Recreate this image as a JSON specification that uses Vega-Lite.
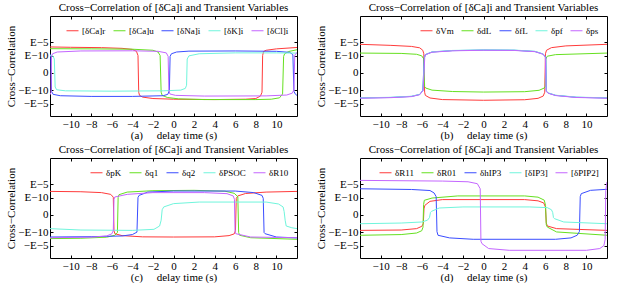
{
"$schema":"https://vega.github.io/schema/vega-lite/v6.json",
"padding":{"left":4,"top":1,"right":0,"bottom":0},
"background":"white",
"config":{
 "font":"Liberation Serif",
 "view":{"stroke":"black","strokeWidth":1},
 "title":{"font":"Liberation Serif","fontSize":11,"fontWeight":"normal","offset":3},
 "axis":{"labelFont":"Liberation Serif","titleFont":"Liberation Serif","labelFontSize":11,"titleFontSize":11,"titleFontWeight":"normal","grid":false,"domain":false,"tickColor":"black","labelColor":"black","titleColor":"black","tickSize":-3,"labelPadding":5,"labelOverlap":false},
 "axisX":{"titlePadding":0},
 "axisY":{"titlePadding":4},
 "legend":{"orient":"top-right","direction":"horizontal","symbolType":"stroke","symbolSize":144,"symbolStrokeWidth":1,"labelFont":"Liberation Serif","labelFontSize":9,"labelOffset":3,"columnPadding":5,"title":null,"offset":8,"padding":0,"labelLimit":0}
},
"data":{"values":[
{"p":"a","s":"[δCa]r","x":-12,"y":14.9},{"p":"a","s":"[δCa]r","x":-10,"y":14.7},{"p":"a","s":"[δCa]r","x":-7,"y":14.5},{"p":"a","s":"[δCa]r","x":-5,"y":14.1},{"p":"a","s":"[δCa]r","x":-4,"y":13.5},{"p":"a","s":"[δCa]r","x":-3.6,"y":12.4},{"p":"a","s":"[δCa]r","x":-3.45,"y":10},{"p":"a","s":"[δCa]r","x":-3.38,"y":-11},{"p":"a","s":"[δCa]r","x":-3.3,"y":-12.8},{"p":"a","s":"[δCa]r","x":-3,"y":-13.8},{"p":"a","s":"[δCa]r","x":-2,"y":-14.6},{"p":"a","s":"[δCa]r","x":0,"y":-15},{"p":"a","s":"[δCa]r","x":4,"y":-15.2},{"p":"a","s":"[δCa]r","x":7,"y":-15},{"p":"a","s":"[δCa]r","x":8,"y":-14.6},{"p":"a","s":"[δCa]r","x":8.45,"y":-13.2},{"p":"a","s":"[δCa]r","x":8.6,"y":-11},{"p":"a","s":"[δCa]r","x":8.66,"y":10},{"p":"a","s":"[δCa]r","x":8.75,"y":12.3},{"p":"a","s":"[δCa]r","x":9,"y":13},{"p":"a","s":"[δCa]r","x":10,"y":13.8},{"p":"a","s":"[δCa]r","x":12,"y":14.6},
{"p":"a","s":"[δCa]u","x":-12,"y":13.9},{"p":"a","s":"[δCa]u","x":-8,"y":13.8},{"p":"a","s":"[δCa]u","x":-4,"y":13.6},{"p":"a","s":"[δCa]u","x":-2,"y":13},{"p":"a","s":"[δCa]u","x":-1.5,"y":12},{"p":"a","s":"[δCa]u","x":-1.3,"y":10},{"p":"a","s":"[δCa]u","x":-1.2,"y":-11},{"p":"a","s":"[δCa]u","x":-1.1,"y":-12.8},{"p":"a","s":"[δCa]u","x":-0.6,"y":-14},{"p":"a","s":"[δCa]u","x":0.5,"y":-14.8},{"p":"a","s":"[δCa]u","x":3,"y":-15.2},{"p":"a","s":"[δCa]u","x":8,"y":-15.2},{"p":"a","s":"[δCa]u","x":9.5,"y":-15},{"p":"a","s":"[δCa]u","x":10.3,"y":-14.2},{"p":"a","s":"[δCa]u","x":10.6,"y":-12},{"p":"a","s":"[δCa]u","x":10.7,"y":9.5},{"p":"a","s":"[δCa]u","x":10.8,"y":11},{"p":"a","s":"[δCa]u","x":11.2,"y":12.3},{"p":"a","s":"[δCa]u","x":12,"y":13.3},
{"p":"a","s":"[δNa]i","x":-12,"y":11},{"p":"a","s":"[δNa]i","x":-11.92,"y":9},{"p":"a","s":"[δNa]i","x":-11.85,"y":-10.5},{"p":"a","s":"[δNa]i","x":-11.7,"y":-12.2},{"p":"a","s":"[δNa]i","x":-11,"y":-13},{"p":"a","s":"[δNa]i","x":-8,"y":-13.4},{"p":"a","s":"[δNa]i","x":-4,"y":-13.4},{"p":"a","s":"[δNa]i","x":-1,"y":-13},{"p":"a","s":"[δNa]i","x":-0.55,"y":-12.2},{"p":"a","s":"[δNa]i","x":-0.4,"y":-10},{"p":"a","s":"[δNa]i","x":-0.33,"y":9.5},{"p":"a","s":"[δNa]i","x":-0.2,"y":11},{"p":"a","s":"[δNa]i","x":0.3,"y":12},{"p":"a","s":"[δNa]i","x":1.5,"y":12.5},{"p":"a","s":"[δNa]i","x":6,"y":12.6},{"p":"a","s":"[δNa]i","x":10,"y":12.4},{"p":"a","s":"[δNa]i","x":11.3,"y":11.8},{"p":"a","s":"[δNa]i","x":11.6,"y":10.5},{"p":"a","s":"[δNa]i","x":11.7,"y":-10.5},{"p":"a","s":"[δNa]i","x":11.85,"y":-12.2},{"p":"a","s":"[δNa]i","x":12,"y":-12.8},
{"p":"a","s":"[δK]i","x":-12,"y":10},{"p":"a","s":"[δK]i","x":-11.7,"y":9.6},{"p":"a","s":"[δK]i","x":-11.58,"y":8},{"p":"a","s":"[δK]i","x":-11.5,"y":-8},{"p":"a","s":"[δK]i","x":-11.35,"y":-9.6},{"p":"a","s":"[δK]i","x":-10.5,"y":-10.2},{"p":"a","s":"[δK]i","x":-6,"y":-10.4},{"p":"a","s":"[δK]i","x":-1,"y":-10.2},{"p":"a","s":"[δK]i","x":0.7,"y":-9.8},{"p":"a","s":"[δK]i","x":1.15,"y":-8.8},{"p":"a","s":"[δK]i","x":1.27,"y":-7},{"p":"a","s":"[δK]i","x":1.33,"y":8},{"p":"a","s":"[δK]i","x":1.5,"y":9.8},{"p":"a","s":"[δK]i","x":2.5,"y":11},{"p":"a","s":"[δK]i","x":6,"y":11.5},{"p":"a","s":"[δK]i","x":10,"y":11.5},{"p":"a","s":"[δK]i","x":12,"y":11.4},
{"p":"a","s":"[δCl]i","x":-12,"y":-12.5},{"p":"a","s":"[δCl]i","x":-11.9,"y":-11},{"p":"a","s":"[δCl]i","x":-11.85,"y":9.5},{"p":"a","s":"[δCl]i","x":-11.75,"y":11},{"p":"a","s":"[δCl]i","x":-11.3,"y":12},{"p":"a","s":"[δCl]i","x":-9,"y":12.6},{"p":"a","s":"[δCl]i","x":-4,"y":12.7},{"p":"a","s":"[δCl]i","x":-1.5,"y":12.4},{"p":"a","s":"[δCl]i","x":-0.7,"y":11.5},{"p":"a","s":"[δCl]i","x":-0.52,"y":9.5},{"p":"a","s":"[δCl]i","x":-0.45,"y":-10},{"p":"a","s":"[δCl]i","x":-0.35,"y":-12},{"p":"a","s":"[δCl]i","x":0.2,"y":-12.8},{"p":"a","s":"[δCl]i","x":3,"y":-13.2},{"p":"a","s":"[δCl]i","x":9,"y":-13.1},{"p":"a","s":"[δCl]i","x":11,"y":-12.6},{"p":"a","s":"[δCl]i","x":11.55,"y":-11.5},{"p":"a","s":"[δCl]i","x":11.7,"y":-9.5},{"p":"a","s":"[δCl]i","x":11.78,"y":10},{"p":"a","s":"[δCl]i","x":11.9,"y":11.2},{"p":"a","s":"[δCl]i","x":12,"y":11.6},
{"p":"b","s":"δVm","x":-12,"y":16.4},{"p":"b","s":"δVm","x":-9,"y":15.8},{"p":"b","s":"δVm","x":-7,"y":15.2},{"p":"b","s":"δVm","x":-6.2,"y":14.4},{"p":"b","s":"δVm","x":-5.9,"y":13},{"p":"b","s":"δVm","x":-5.8,"y":11},{"p":"b","s":"δVm","x":-5.72,"y":-11},{"p":"b","s":"δVm","x":-5.65,"y":-12.8},{"p":"b","s":"δVm","x":-5.2,"y":-14.3},{"p":"b","s":"δVm","x":-4,"y":-15.2},{"p":"b","s":"δVm","x":0,"y":-15.6},{"p":"b","s":"δVm","x":4,"y":-15.3},{"p":"b","s":"δVm","x":5.3,"y":-14.5},{"p":"b","s":"δVm","x":5.8,"y":-13.2},{"p":"b","s":"δVm","x":5.95,"y":-11},{"p":"b","s":"δVm","x":6.02,"y":11},{"p":"b","s":"δVm","x":6.12,"y":13},{"p":"b","s":"δVm","x":6.6,"y":14.5},{"p":"b","s":"δVm","x":8,"y":15.5},{"p":"b","s":"δVm","x":12,"y":16.4},
{"p":"b","s":"δdL","x":-12,"y":11.4},{"p":"b","s":"δdL","x":-8,"y":11.2},{"p":"b","s":"δdL","x":-6.5,"y":10.7},{"p":"b","s":"δdL","x":-6,"y":9.8},{"p":"b","s":"δdL","x":-5.8,"y":8},{"p":"b","s":"δdL","x":-5.72,"y":-7.8},{"p":"b","s":"δdL","x":-5.62,"y":-8.6},{"p":"b","s":"δdL","x":-5,"y":-9.8},{"p":"b","s":"δdL","x":-3,"y":-10.6},{"p":"b","s":"δdL","x":0,"y":-10.9},{"p":"b","s":"δdL","x":4,"y":-10.7},{"p":"b","s":"δdL","x":5.4,"y":-9.9},{"p":"b","s":"δdL","x":5.9,"y":-8.6},{"p":"b","s":"δdL","x":6,"y":-7.6},{"p":"b","s":"δdL","x":6.05,"y":8},{"p":"b","s":"δdL","x":6.2,"y":9.6},{"p":"b","s":"δdL","x":7,"y":10.5},{"p":"b","s":"δdL","x":12,"y":11.4},
{"p":"b","s":"δfL","x":-12,"y":-14.3},{"p":"b","s":"δfL","x":-9,"y":-14},{"p":"b","s":"δfL","x":-7,"y":-13.4},{"p":"b","s":"δfL","x":-6.2,"y":-12.3},{"p":"b","s":"δfL","x":-5.9,"y":-10},{"p":"b","s":"δfL","x":-5.75,"y":9},{"p":"b","s":"δfL","x":-5.65,"y":10.5},{"p":"b","s":"δfL","x":-5,"y":12},{"p":"b","s":"δfL","x":-3,"y":12.8},{"p":"b","s":"δfL","x":0,"y":13.1},{"p":"b","s":"δfL","x":3,"y":13},{"p":"b","s":"δfL","x":5,"y":12.3},{"p":"b","s":"δfL","x":5.8,"y":10.8},{"p":"b","s":"δfL","x":6.05,"y":9},{"p":"b","s":"δfL","x":6.12,"y":-10.5},{"p":"b","s":"δfL","x":6.3,"y":-11.5},{"p":"b","s":"δfL","x":7,"y":-12.8},{"p":"b","s":"δfL","x":9,"y":-13.9},{"p":"b","s":"δfL","x":12,"y":-14.3},
{"p":"b","s":"δpf","x":-12,"y":-14.2},{"p":"b","s":"δpf","x":-9,"y":-13.9},{"p":"b","s":"δpf","x":-7,"y":-13.3},{"p":"b","s":"δpf","x":-6.2,"y":-12.2},{"p":"b","s":"δpf","x":-5.88,"y":-10},{"p":"b","s":"δpf","x":-5.73,"y":9},{"p":"b","s":"δpf","x":-5.63,"y":10.5},{"p":"b","s":"δpf","x":-5,"y":12.1},{"p":"b","s":"δpf","x":-3,"y":12.9},{"p":"b","s":"δpf","x":0,"y":13.2},{"p":"b","s":"δpf","x":3,"y":13.1},{"p":"b","s":"δpf","x":5,"y":12.4},{"p":"b","s":"δpf","x":5.8,"y":10.9},{"p":"b","s":"δpf","x":6.03,"y":9},{"p":"b","s":"δpf","x":6.1,"y":-10.5},{"p":"b","s":"δpf","x":6.3,"y":-11.4},{"p":"b","s":"δpf","x":7,"y":-12.7},{"p":"b","s":"δpf","x":9,"y":-13.8},{"p":"b","s":"δpf","x":12,"y":-14.2},
{"p":"b","s":"δps","x":-12,"y":-14.4},{"p":"b","s":"δps","x":-9,"y":-14.1},{"p":"b","s":"δps","x":-7,"y":-13.5},{"p":"b","s":"δps","x":-6.2,"y":-12.4},{"p":"b","s":"δps","x":-5.86,"y":-10},{"p":"b","s":"δps","x":-5.71,"y":9},{"p":"b","s":"δps","x":-5.61,"y":10.5},{"p":"b","s":"δps","x":-5,"y":11.9},{"p":"b","s":"δps","x":-3,"y":12.7},{"p":"b","s":"δps","x":0,"y":13},{"p":"b","s":"δps","x":3,"y":12.9},{"p":"b","s":"δps","x":5,"y":12.2},{"p":"b","s":"δps","x":5.8,"y":10.7},{"p":"b","s":"δps","x":6.01,"y":9},{"p":"b","s":"δps","x":6.08,"y":-10.5},{"p":"b","s":"δps","x":6.3,"y":-11.6},{"p":"b","s":"δps","x":7,"y":-12.9},{"p":"b","s":"δps","x":9,"y":-14},{"p":"b","s":"δps","x":12,"y":-14.4},
{"p":"c","s":"δpK","x":-12,"y":13.5},{"p":"c","s":"δpK","x":-9,"y":13.3},{"p":"c","s":"δpK","x":-7,"y":12.8},{"p":"c","s":"δpK","x":-6.1,"y":11.8},{"p":"c","s":"δpK","x":-5.85,"y":10.2},{"p":"c","s":"δpK","x":-5.78,"y":-9},{"p":"c","s":"δpK","x":-5.7,"y":-10.7},{"p":"c","s":"δpK","x":-5,"y":-11.8},{"p":"c","s":"δpK","x":-3,"y":-12.5},{"p":"c","s":"δpK","x":0,"y":-12.6},{"p":"c","s":"δpK","x":4,"y":-12.5},{"p":"c","s":"δpK","x":5.4,"y":-11.8},{"p":"c","s":"δpK","x":5.9,"y":-10.8},{"p":"c","s":"δpK","x":6.02,"y":-9},{"p":"c","s":"δpK","x":6.1,"y":9.5},{"p":"c","s":"δpK","x":6.25,"y":10.9},{"p":"c","s":"δpK","x":7,"y":12.3},{"p":"c","s":"δpK","x":9,"y":13.1},{"p":"c","s":"δpK","x":12,"y":13.5},
{"p":"c","s":"δq1","x":-12,"y":-13.5},{"p":"c","s":"δq1","x":-9,"y":-13.3},{"p":"c","s":"δq1","x":-6.5,"y":-12.7},{"p":"c","s":"δq1","x":-5.7,"y":-11.6},{"p":"c","s":"δq1","x":-5.45,"y":-10},{"p":"c","s":"δq1","x":-5.38,"y":10},{"p":"c","s":"δq1","x":-5.3,"y":11.6},{"p":"c","s":"δq1","x":-4.5,"y":13.1},{"p":"c","s":"δq1","x":-2,"y":13.9},{"p":"c","s":"δq1","x":2,"y":14.1},{"p":"c","s":"δq1","x":5,"y":13.6},{"p":"c","s":"δq1","x":5.9,"y":12.4},{"p":"c","s":"δq1","x":6.25,"y":10.5},{"p":"c","s":"δq1","x":6.33,"y":-10},{"p":"c","s":"δq1","x":6.42,"y":-11.6},{"p":"c","s":"δq1","x":7.5,"y":-13},{"p":"c","s":"δq1","x":12,"y":-13.9},
{"p":"c","s":"δq2","x":-12,"y":-12.6},{"p":"c","s":"δq2","x":-8,"y":-12.4},{"p":"c","s":"δq2","x":-5,"y":-12},{"p":"c","s":"δq2","x":-4,"y":-11.2},{"p":"c","s":"δq2","x":-3.55,"y":-9.8},{"p":"c","s":"δq2","x":-3.45,"y":10},{"p":"c","s":"δq2","x":-3.35,"y":11.2},{"p":"c","s":"δq2","x":-2.5,"y":13.1},{"p":"c","s":"δq2","x":0,"y":13.7},{"p":"c","s":"δq2","x":6,"y":13.7},{"p":"c","s":"δq2","x":7.8,"y":12.8},{"p":"c","s":"δq2","x":8.6,"y":11.2},{"p":"c","s":"δq2","x":8.72,"y":9.5},{"p":"c","s":"δq2","x":8.8,"y":-10},{"p":"c","s":"δq2","x":8.9,"y":-10.7},{"p":"c","s":"δq2","x":10,"y":-12.6},{"p":"c","s":"δq2","x":12,"y":-13.1},
{"p":"c","s":"δPSOC","x":-12,"y":-7.8},{"p":"c","s":"δPSOC","x":-9,"y":-8.6},{"p":"c","s":"δPSOC","x":-4,"y":-8.8},{"p":"c","s":"δPSOC","x":-1.9,"y":-8.2},{"p":"c","s":"δPSOC","x":-1.35,"y":-6.3},{"p":"c","s":"δPSOC","x":-1.2,"y":-3},{"p":"c","s":"δPSOC","x":-1.1,"y":3},{"p":"c","s":"δPSOC","x":-0.95,"y":4.6},{"p":"c","s":"δPSOC","x":0,"y":6.5},{"p":"c","s":"δPSOC","x":2.5,"y":7.4},{"p":"c","s":"δPSOC","x":9,"y":7.4},{"p":"c","s":"δPSOC","x":10.2,"y":6.3},{"p":"c","s":"δPSOC","x":10.65,"y":4.6},{"p":"c","s":"δPSOC","x":10.75,"y":2},{"p":"c","s":"δPSOC","x":10.85,"y":-3},{"p":"c","s":"δPSOC","x":10.95,"y":-6.3},{"p":"c","s":"δPSOC","x":11.5,"y":-7.3},{"p":"c","s":"δPSOC","x":12,"y":-7.8},
{"p":"c","s":"δR10","x":-12,"y":-13},{"p":"c","s":"δR10","x":-8,"y":-12.7},{"p":"c","s":"δR10","x":-6.5,"y":-12},{"p":"c","s":"δR10","x":-6,"y":-10.8},{"p":"c","s":"δR10","x":-5.85,"y":-9},{"p":"c","s":"δR10","x":-5.78,"y":9},{"p":"c","s":"δR10","x":-5.7,"y":10.3},{"p":"c","s":"δR10","x":-4.5,"y":11.8},{"p":"c","s":"δR10","x":-2,"y":12.8},{"p":"c","s":"δR10","x":3,"y":12.8},{"p":"c","s":"δR10","x":5.2,"y":12.2},{"p":"c","s":"δR10","x":5.8,"y":10.9},{"p":"c","s":"δR10","x":5.92,"y":9},{"p":"c","s":"δR10","x":5.98,"y":-9.5},{"p":"c","s":"δR10","x":6.05,"y":-10.7},{"p":"c","s":"δR10","x":7.5,"y":-12.6},{"p":"c","s":"δR10","x":12,"y":-13},
{"p":"d","s":"δR11","x":-12,"y":-8.8},{"p":"d","s":"δR11","x":-8,"y":-8.6},{"p":"d","s":"δR11","x":-6.5,"y":-7.8},{"p":"d","s":"δR11","x":-6,"y":-6.5},{"p":"d","s":"δR11","x":-5.85,"y":-5},{"p":"d","s":"δR11","x":-5.78,"y":3.5},{"p":"d","s":"δR11","x":-5.7,"y":5.5},{"p":"d","s":"δR11","x":-5.2,"y":7.8},{"p":"d","s":"δR11","x":-4,"y":8.8},{"p":"d","s":"δR11","x":4,"y":8.8},{"p":"d","s":"δR11","x":5.3,"y":8.1},{"p":"d","s":"δR11","x":5.85,"y":6.9},{"p":"d","s":"δR11","x":6.02,"y":4.5},{"p":"d","s":"δR11","x":6.1,"y":-4.5},{"p":"d","s":"δR11","x":6.2,"y":-6.3},{"p":"d","s":"δR11","x":7.1,"y":-7.8},{"p":"d","s":"δR11","x":12,"y":-8.8},
{"p":"d","s":"δR01","x":-12,"y":-11.6},{"p":"d","s":"δR01","x":-8,"y":-11.2},{"p":"d","s":"δR01","x":-6.5,"y":-10.3},{"p":"d","s":"δR01","x":-6,"y":-9},{"p":"d","s":"δR01","x":-5.88,"y":-7},{"p":"d","s":"δR01","x":-5.82,"y":6},{"p":"d","s":"δR01","x":-5.75,"y":8.4},{"p":"d","s":"δR01","x":-5,"y":9.7},{"p":"d","s":"δR01","x":-2.5,"y":10.9},{"p":"d","s":"δR01","x":4,"y":10.9},{"p":"d","s":"δR01","x":5.3,"y":10.2},{"p":"d","s":"δR01","x":5.9,"y":8.5},{"p":"d","s":"δR01","x":6.03,"y":5.5},{"p":"d","s":"δR01","x":6.1,"y":-5.5},{"p":"d","s":"δR01","x":6.2,"y":-6.9},{"p":"d","s":"δR01","x":7.1,"y":-9.7},{"p":"d","s":"δR01","x":12,"y":-11.6},
{"p":"d","s":"δhIP3","x":-12,"y":15},{"p":"d","s":"δhIP3","x":-7,"y":14.6},{"p":"d","s":"δhIP3","x":-5.2,"y":14},{"p":"d","s":"δhIP3","x":-4.8,"y":12.6},{"p":"d","s":"δhIP3","x":-4.6,"y":10.5},{"p":"d","s":"δhIP3","x":-4.52,"y":-9.5},{"p":"d","s":"δhIP3","x":-4.42,"y":-11.6},{"p":"d","s":"δhIP3","x":-3.3,"y":-13.1},{"p":"d","s":"δhIP3","x":-1,"y":-13.9},{"p":"d","s":"δhIP3","x":7,"y":-13.9},{"p":"d","s":"δhIP3","x":8.5,"y":-13.1},{"p":"d","s":"δhIP3","x":9.1,"y":-11.6},{"p":"d","s":"δhIP3","x":9.32,"y":-9.5},{"p":"d","s":"δhIP3","x":9.4,"y":10.5},{"p":"d","s":"δhIP3","x":9.5,"y":12.2},{"p":"d","s":"δhIP3","x":10.4,"y":14.1},{"p":"d","s":"δhIP3","x":12,"y":14.7},
{"p":"d","s":"[δIP3]","x":-12,"y":-5},{"p":"d","s":"[δIP3]","x":-8,"y":-4.6},{"p":"d","s":"[δIP3]","x":-6,"y":-4},{"p":"d","s":"[δIP3]","x":-5.45,"y":-3},{"p":"d","s":"[δIP3]","x":-5.25,"y":-1.5},{"p":"d","s":"[δIP3]","x":-5.15,"y":1.5},{"p":"d","s":"[δIP3]","x":-5.05,"y":2.1},{"p":"d","s":"[δIP3]","x":-4.3,"y":4},{"p":"d","s":"[δIP3]","x":-2,"y":4.6},{"p":"d","s":"[δIP3]","x":4.5,"y":4.6},{"p":"d","s":"[δIP3]","x":6.2,"y":4.2},{"p":"d","s":"[δIP3]","x":6.6,"y":3},{"p":"d","s":"[δIP3]","x":6.72,"y":1.5},{"p":"d","s":"[δIP3]","x":6.8,"y":-1.5},{"p":"d","s":"[δIP3]","x":6.9,"y":-2.1},{"p":"d","s":"[δIP3]","x":7.8,"y":-4},{"p":"d","s":"[δIP3]","x":12,"y":-5},
{"p":"d","s":"[δPIP2]","x":-12,"y":19.8},{"p":"d","s":"[δPIP2]","x":-4,"y":19.4},{"p":"d","s":"[δPIP2]","x":-1.5,"y":19},{"p":"d","s":"[δPIP2]","x":-0.6,"y":17.9},{"p":"d","s":"[δPIP2]","x":-0.32,"y":15},{"p":"d","s":"[δPIP2]","x":-0.25,"y":-15},{"p":"d","s":"[δPIP2]","x":-0.15,"y":-16.4},{"p":"d","s":"[δPIP2]","x":0.5,"y":-19.2},{"p":"d","s":"[δPIP2]","x":2.5,"y":-20.2},{"p":"d","s":"[δPIP2]","x":10,"y":-20.2},{"p":"d","s":"[δPIP2]","x":11.3,"y":-19.2},{"p":"d","s":"[δPIP2]","x":11.7,"y":-17.5},{"p":"d","s":"[δPIP2]","x":11.82,"y":-14},{"p":"d","s":"[δPIP2]","x":11.88,"y":14},{"p":"d","s":"[δPIP2]","x":11.95,"y":17},{"p":"d","s":"[δPIP2]","x":12,"y":18.9}
]},
"columns":2,
"spacing":{"row":2,"column":16},
"resolve":{"scale":{"color":"independent"}},
"concat":[
{"title":"Cross−Correlation of [δCa]i and Transient Variables","width":247,"height":100,
 "transform":[{"filter":"datum.p == 'a'"}],
 "encoding":{
  "x":{"field":"x","type":"quantitative","scale":{"domain":[-12,12],"nice":false,"zero":false},"axis":{"title":"(a)\u00a0\u00a0\u00a0\u00a0\u00a0delay time (s)","values":[-10,-8,-6,-4,-2,0,2,4,6,8,10]}},
  "y":{"field":"y","type":"quantitative","scale":{"domain":[-24.6,32.6],"nice":false},"axis":{"title":"Cross−Correlation","minExtent":30,"maxExtent":30,"values":[-17.7,-10,0,10,17.7],"labelExpr":"datum.value > 15 ? 'E−5' : datum.value > 5 ? 'E−10' : datum.value > -5 ? '0' : datum.value > -15 ? '−E−10' : '−E−5'"}}
 },
 "layer":[
  {"mark":{"type":"line","strokeWidth":1,"clip":true},
   "encoding":{"color":{"field":"s","type":"nominal","scale":{"domain":["[δCa]r","[δCa]u","[δNa]i","[δK]i","[δCl]i"],"range":["#ff3b3b","#66e020","#3a4dff","#70f5dc","#c466ff"]}}}},
  {"mark":{"type":"line","opacity":0},
   "encoding":{"x":{"field":"x","type":"quantitative","axis":{"orient":"top","labels":false,"title":null,"values":[-10,-8,-6,-4,-2,0,2,4,6,8,10],"minExtent":0,"maxExtent":0}},
               "y":{"field":"y","type":"quantitative","axis":{"orient":"right","labels":false,"title":null,"values":[-17.7,-10,0,10,17.7],"minExtent":0,"maxExtent":0}}}}
 ],
 "resolve":{"axis":{"x":"independent","y":"independent"}}},
{"title":"Cross−Correlation of [δCa]i and Transient Variables","width":247,"height":100,
 "transform":[{"filter":"datum.p == 'b'"}],
 "encoding":{
  "x":{"field":"x","type":"quantitative","scale":{"domain":[-12,12],"nice":false,"zero":false},"axis":{"title":"(b)\u00a0\u00a0\u00a0\u00a0\u00a0delay time (s)","values":[-10,-8,-6,-4,-2,0,2,4,6,8,10]}},
  "y":{"field":"y","type":"quantitative","scale":{"domain":[-24.6,32.6],"nice":false},"axis":{"title":"Cross−Correlation","minExtent":30,"maxExtent":30,"values":[-17.7,-10,0,10,17.7],"labelExpr":"datum.value > 15 ? 'E−5' : datum.value > 5 ? 'E−10' : datum.value > -5 ? '0' : datum.value > -15 ? '−E−10' : '−E−5'"}}
 },
 "layer":[
  {"mark":{"type":"line","strokeWidth":1,"clip":true},
   "encoding":{"color":{"field":"s","type":"nominal","scale":{"domain":["δVm","δdL","δfL","δpf","δps"],"range":["#ff3b3b","#66e020","#3a4dff","#70f5dc","#c466ff"]}}}},
  {"mark":{"type":"line","opacity":0},
   "encoding":{"x":{"field":"x","type":"quantitative","axis":{"orient":"top","labels":false,"title":null,"values":[-10,-8,-6,-4,-2,0,2,4,6,8,10],"minExtent":0,"maxExtent":0}},
               "y":{"field":"y","type":"quantitative","axis":{"orient":"right","labels":false,"title":null,"values":[-17.7,-10,0,10,17.7],"minExtent":0,"maxExtent":0}}}}
 ],
 "resolve":{"axis":{"x":"independent","y":"independent"}}},
{"title":"Cross−Correlation of [δCa]i and Transient Variables","width":247,"height":100,
 "transform":[{"filter":"datum.p == 'c'"}],
 "encoding":{
  "x":{"field":"x","type":"quantitative","scale":{"domain":[-12,12],"nice":false,"zero":false},"axis":{"title":"(c)\u00a0\u00a0\u00a0\u00a0\u00a0delay time (s)","values":[-10,-8,-6,-4,-2,0,2,4,6,8,10]}},
  "y":{"field":"y","type":"quantitative","scale":{"domain":[-24.6,32.6],"nice":false},"axis":{"title":"Cross−Correlation","minExtent":30,"maxExtent":30,"values":[-17.7,-10,0,10,17.7],"labelExpr":"datum.value > 15 ? 'E−5' : datum.value > 5 ? 'E−10' : datum.value > -5 ? '0' : datum.value > -15 ? '−E−10' : '−E−5'"}}
 },
 "layer":[
  {"mark":{"type":"line","strokeWidth":1,"clip":true},
   "encoding":{"color":{"field":"s","type":"nominal","scale":{"domain":["δpK","δq1","δq2","δPSOC","δR10"],"range":["#ff3b3b","#66e020","#3a4dff","#70f5dc","#c466ff"]}}}},
  {"mark":{"type":"line","opacity":0},
   "encoding":{"x":{"field":"x","type":"quantitative","axis":{"orient":"top","labels":false,"title":null,"values":[-10,-8,-6,-4,-2,0,2,4,6,8,10],"minExtent":0,"maxExtent":0}},
               "y":{"field":"y","type":"quantitative","axis":{"orient":"right","labels":false,"title":null,"values":[-17.7,-10,0,10,17.7],"minExtent":0,"maxExtent":0}}}}
 ],
 "resolve":{"axis":{"x":"independent","y":"independent"}}},
{"title":"Cross−Correlation of [δCa]i and Transient Variables","width":247,"height":100,
 "transform":[{"filter":"datum.p == 'd'"}],
 "encoding":{
  "x":{"field":"x","type":"quantitative","scale":{"domain":[-12,12],"nice":false,"zero":false},"axis":{"title":"(d)\u00a0\u00a0\u00a0\u00a0\u00a0delay time (s)","values":[-10,-8,-6,-4,-2,0,2,4,6,8,10]}},
  "y":{"field":"y","type":"quantitative","scale":{"domain":[-24.6,32.6],"nice":false},"axis":{"title":"Cross−Correlation","minExtent":30,"maxExtent":30,"values":[-17.7,-10,0,10,17.7],"labelExpr":"datum.value > 15 ? 'E−5' : datum.value > 5 ? 'E−10' : datum.value > -5 ? '0' : datum.value > -15 ? '−E−10' : '−E−5'"}}
 },
 "layer":[
  {"mark":{"type":"line","strokeWidth":1,"clip":true},
   "encoding":{"color":{"field":"s","type":"nominal","scale":{"domain":["δR11","δR01","δhIP3","[δIP3]","[δPIP2]"],"range":["#ff3b3b","#66e020","#3a4dff","#70f5dc","#c466ff"]}}}},
  {"mark":{"type":"line","opacity":0},
   "encoding":{"x":{"field":"x","type":"quantitative","axis":{"orient":"top","labels":false,"title":null,"values":[-10,-8,-6,-4,-2,0,2,4,6,8,10],"minExtent":0,"maxExtent":0}},
               "y":{"field":"y","type":"quantitative","axis":{"orient":"right","labels":false,"title":null,"values":[-17.7,-10,0,10,17.7],"minExtent":0,"maxExtent":0}}}}
 ],
 "resolve":{"axis":{"x":"independent","y":"independent"}}}
]
}
